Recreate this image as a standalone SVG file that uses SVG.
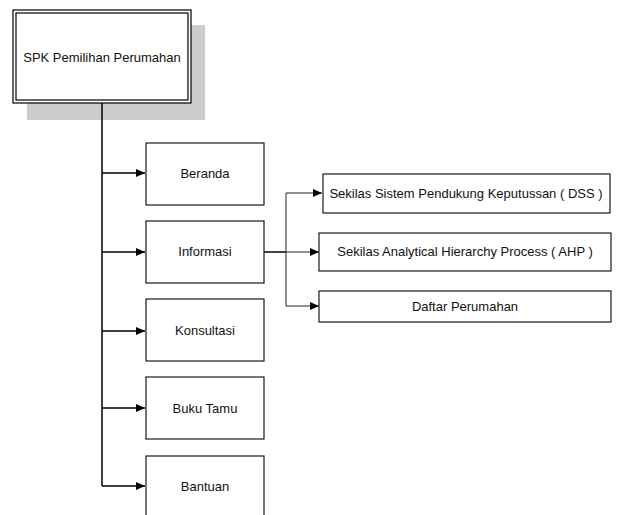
<svg xmlns="http://www.w3.org/2000/svg" width="619" height="515" viewBox="0 0 619 515">
<style>
.box{fill:#fff;stroke:#1a1a1a;stroke-width:1.2}
.t{font-family:"Liberation Sans",Arial,sans-serif;font-size:13px;fill:#111;text-anchor:middle}
.c{fill:none;stroke:#000;stroke-width:1.5}
.c2{fill:none;stroke:#222;stroke-width:1}
</style>
<defs>
<marker id="ah" markerWidth="9" markerHeight="8" refX="9" refY="4" orient="auto" markerUnits="userSpaceOnUse">
<path d="M0,0 L9,4 L0,8 Z" fill="#000"/>
</marker>
</defs>
<rect width="619" height="515" fill="#fff"/>
<g id="root">
<rect x="27" y="25" width="178" height="95" fill="#cccccc"/>
<rect x="13" y="10" width="178" height="93" fill="#fff" stroke="#000" stroke-width="1.2"/>
<rect x="16" y="13" width="172" height="87" fill="none" stroke="#000" stroke-width="1.2"/>
<text class="t" x="102" y="62">SPK Pemilihan Perumahan</text>
</g>
<g id="connectors">
<path class="c" d="M102,103 V486"/>
<path class="c" d="M102,173 H145" marker-end="url(#ah)"/>
<path class="c" d="M102,252 H145" marker-end="url(#ah)"/>
<path class="c" d="M102,331 H145" marker-end="url(#ah)"/>
<path class="c" d="M102,408 H145" marker-end="url(#ah)"/>
<path class="c" d="M102,486 H145" marker-end="url(#ah)"/>
<path class="c" d="M264,252 H286"/>
<path class="c2" d="M286,252 H319" marker-end="url(#ah)"/>
<path class="c2" d="M286,193 V306"/>
<path class="c2" d="M286,193 H322" marker-end="url(#ah)"/>
<path class="c2" d="M286,306 H319" marker-end="url(#ah)"/>
</g>
<g id="beranda"><rect class="box" x="146" y="143" width="118" height="62"/><text class="t" x="205" y="178">Beranda</text></g>
<g id="informasi"><rect class="box" x="146" y="221" width="118" height="62"/><text class="t" x="205" y="256">Informasi</text></g>
<g id="konsultasi"><rect class="box" x="146" y="299" width="118" height="62"/><text class="t" x="205" y="335">Konsultasi</text></g>
<g id="bukutamu"><rect class="box" x="146" y="377" width="118" height="62"/><text class="t" x="205" y="413">Buku Tamu</text></g>
<g id="bantuan"><rect class="box" x="146" y="456" width="118" height="70"/><text class="t" x="205" y="491">Bantuan</text></g>
<g id="dss"><rect class="box" x="323" y="174" width="287" height="39"/><text class="t" x="466" y="198">Sekilas Sistem Pendukung Keputussan ( DSS )</text></g>
<g id="ahp"><rect class="box" x="319" y="233" width="292" height="38"/><text class="t" x="465" y="256">Sekilas Analytical Hierarchy Process ( AHP )</text></g>
<g id="daftar"><rect class="box" x="319" y="291" width="292" height="31"/><text class="t" x="465" y="311">Daftar Perumahan</text></g>
</svg>
